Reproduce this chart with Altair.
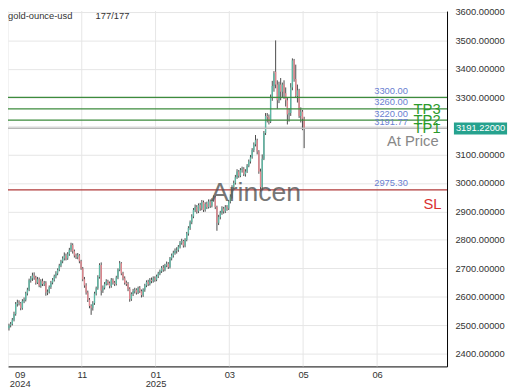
import altair as alt
import pandas as pd

# ---- OHLC values (daily bars, index-based x) ----
O = [2490, 2500, 2505, 2520, 2540, 2575, 2580, 2578, 2560, 2585,
     2590, 2612, 2625, 2658, 2665, 2675, 2668, 2650, 2662, 2640,
     2655, 2645, 2650, 2615, 2618, 2635, 2650, 2660, 2672, 2682,
     2695, 2710, 2725, 2735, 2745, 2735, 2750, 2765, 2782, 2760,
     2745, 2740, 2746, 2725, 2700, 2662, 2640, 2615, 2590, 2568,
     2562, 2578, 2612, 2630, 2670, 2712, 2622, 2632, 2645, 2655,
     2648, 2638, 2660, 2650, 2645, 2668, 2695, 2718, 2682, 2665,
     2650, 2645, 2628, 2592, 2610, 2620, 2625, 2615, 2630, 2620,
     2606, 2625, 2640, 2652, 2645, 2660, 2655, 2665, 2660, 2672,
     2682, 2690, 2702, 2695, 2710, 2716, 2705, 2735, 2745, 2755,
     2762, 2765, 2776, 2790, 2796, 2780, 2800, 2822, 2842, 2862,
     2882, 2905, 2915, 2900, 2922, 2910, 2932, 2905, 2926, 2915,
     2935, 2920, 2940, 2950, 2915, 2860, 2880, 2895, 2910, 2900,
     2915, 2910, 2935, 2952, 2985, 3000, 3020, 3040, 3025, 3045,
     3050, 3030, 3040, 3060, 3075, 3090, 3115, 3135, 3150, 3110,
     3040, 2985, 3085, 3175, 3235, 3230, 3215, 3300, 3340, 3390,
     3345, 3290, 3345, 3320, 3345, 3315, 3290, 3240, 3245, 3335,
     3430, 3365, 3305, 3325, 3235, 3250, 3225]

H = [2506, 2512, 2526, 2548, 2582, 2590, 2588, 2582, 2592, 2598,
     2618, 2632, 2664, 2673, 2685, 2686, 2674, 2670, 2668, 2662,
     2664, 2656, 2655, 2626, 2640, 2656, 2666, 2678, 2690, 2700,
     2716, 2730, 2742, 2756, 2752, 2757, 2772, 2790, 2788, 2766,
     2752, 2754, 2750, 2730, 2705, 2670, 2648, 2622, 2596, 2574,
     2585, 2618, 2636, 2676, 2718, 2721, 2640, 2652, 2662, 2660,
     2654, 2666, 2665, 2656, 2674, 2700, 2726, 2722, 2688, 2672,
     2657, 2652, 2634, 2616, 2628, 2632, 2630, 2636, 2638, 2626,
     2630, 2646, 2658, 2660, 2666, 2668, 2672, 2672, 2678, 2688,
     2696, 2708, 2712, 2716, 2724, 2722, 2740, 2752, 2762, 2770,
     2774, 2782, 2796, 2804, 2800, 2806, 2828, 2848, 2868, 2890,
     2912, 2924, 2922, 2928, 2930, 2940, 2938, 2932, 2934, 2942,
     2942, 2946, 2956, 2954, 2920, 2888, 2902, 2918, 2916, 2922,
     2922, 2940, 2960, 2992, 3008, 3028, 3048, 3045, 3052, 3057,
     3055, 3048, 3066, 3082, 3098, 3122, 3142, 3168, 3155, 3115,
     3050, 3100, 3182, 3245, 3245, 3240, 3310, 3358, 3392, 3500,
     3360, 3355, 3368, 3352, 3360, 3335, 3300, 3262, 3350, 3437,
     3435, 3415, 3345, 3330, 3265, 3256, 3232]

L = [2482, 2493, 2500, 2514, 2534, 2566, 2570, 2553, 2555, 2578,
     2584, 2605, 2620, 2650, 2656, 2660, 2643, 2645, 2634, 2632,
     2638, 2638, 2604, 2606, 2612, 2628, 2644, 2654, 2665, 2676,
     2690, 2704, 2718, 2728, 2728, 2730, 2744, 2758, 2752, 2738,
     2733, 2732, 2718, 2695, 2655, 2632, 2608, 2582, 2560, 2537,
     2552, 2572, 2605, 2625, 2664, 2605, 2614, 2626, 2640, 2641,
     2630, 2632, 2643, 2638, 2640, 2662, 2690, 2676, 2658, 2643,
     2638, 2620, 2583, 2586, 2603, 2612, 2608, 2610, 2614, 2598,
     2600, 2618, 2634, 2638, 2640, 2648, 2650, 2653, 2655, 2666,
     2676, 2684, 2688, 2690, 2704, 2698, 2700, 2728, 2738, 2748,
     2752, 2758, 2770, 2783, 2773, 2774, 2795, 2815, 2835, 2855,
     2876, 2898, 2892, 2894, 2902, 2904, 2898, 2899, 2908, 2910,
     2912, 2914, 2934, 2908, 2832, 2852, 2872, 2888, 2892, 2894,
     2902, 2905, 2928, 2945, 2978, 2994, 3014, 3018, 3020, 3036,
     3024, 3022, 3035, 3055, 3068, 3085, 3108, 3128, 3100, 3032,
     2970, 2975, 3080, 3168, 3212, 3205, 3210, 3288, 3320, 3332,
     3260, 3280, 3290, 3300, 3295, 3268, 3205, 3215, 3235, 3325,
     3355, 3298, 3282, 3228, 3212, 3185, 3122]

C = [2500, 2505, 2520, 2540, 2575, 2580, 2578, 2560, 2585, 2590,
     2612, 2625, 2658, 2665, 2675, 2668, 2650, 2662, 2640, 2655,
     2645, 2650, 2615, 2618, 2635, 2650, 2660, 2672, 2682, 2695,
     2710, 2725, 2735, 2745, 2735, 2750, 2765, 2782, 2760, 2745,
     2740, 2746, 2725, 2700, 2662, 2640, 2615, 2590, 2568, 2562,
     2578, 2612, 2630, 2670, 2712, 2622, 2632, 2645, 2655, 2648,
     2638, 2660, 2650, 2645, 2668, 2695, 2718, 2682, 2665, 2650,
     2645, 2628, 2592, 2610, 2620, 2625, 2615, 2630, 2620, 2606,
     2625, 2640, 2652, 2645, 2660, 2655, 2665, 2660, 2672, 2682,
     2690, 2702, 2695, 2710, 2716, 2705, 2735, 2745, 2755, 2762,
     2765, 2776, 2790, 2796, 2780, 2800, 2822, 2842, 2862, 2882,
     2905, 2915, 2900, 2922, 2910, 2932, 2905, 2926, 2915, 2935,
     2920, 2940, 2950, 2915, 2860, 2880, 2895, 2910, 2900, 2915,
     2910, 2935, 2952, 2985, 3000, 3020, 3040, 3025, 3045, 3050,
     3030, 3040, 3060, 3075, 3090, 3115, 3135, 3150, 3110, 3040,
     2985, 3085, 3175, 3235, 3230, 3215, 3300, 3340, 3385, 3345,
     3290, 3345, 3320, 3345, 3315, 3290, 3240, 3245, 3335, 3430,
     3365, 3305, 3325, 3235, 3250, 3225, 3191]

# ---- axis ticks ----
label_pos = [6.4, 43.4, 87.4, 131.4, 175.4, 219.5]
label_top = ["09", "11", "01", "03", "05", "06"]
label_bot = ["2024", "", "2025", "", "", ""]
grid_pos = [-0.58, 43.4, 87.4, 131.4, 175.4, 219.5]
y_ticks = [2400, 2500, 2600, 2700, 2800, 2900, 3000, 3100, 3200, 3300, 3400, 3500, 3600]

# ---- levels ----
level_values = [3300.00, 3260.00, 3220.00, 3191.77, 2975.30]
level_text = ["3300.00", "3260.00", "3220.00", "3191.77", "2975.30"]
level_kind = ["tp", "tp", "tp", "entry", "sl"]
tp_values = [3260.00, 3220.00, 3191.77]
tp_names = ["TP3", "TP2", "TP1"]
entry_value = 3191.77
sl_value = 2975.30
last_price = 3191.22

FONT = "Liberation Sans"
KIND_COLOR = {"tp": "#3d8b3d", "entry": "#b8b8b8", "sl": "#b03a3a"}
DIR_COLOR = {"up": "#5cb8a4", "down": "#e2868e"}

df = pd.DataFrame({"i": list(range(len(C))), "o": O, "h": H, "l": L, "c": C})
df["col"] = [DIR_COLOR["up"] if c >= o else DIR_COLOR["down"] for o, c in zip(O, C)]

expr = ""
for p, t, b in zip(label_pos, label_top, label_bot):
    lab = f"['{t}', '{b}']" if b else f"'{t}'"
    expr += f"abs(datum.value - {p}) < 1 ? {lab} : "
expr += "''"

xscale = alt.Scale(domain=[-0.58, 261.2], nice=False, zero=False)
yscale = alt.Scale(domain=[2356, 3603], nice=False, zero=False)
xaxis = alt.Axis(values=label_pos, labelExpr=expr, grid=False, ticks=False,
                 domain=True, domainColor="black", domainWidth=1,
                 labelPadding=3, labelFontSize=9.5, labelColor="#333",
                 labelLineHeight=9, labelFont=FONT, title=None, labelOverlap=False)
yaxis = alt.Axis(orient="right", values=y_ticks, format=".5f", grid=True,
                 gridColor="#e6e6e6", ticks=False, labelPadding=8,
                 domain=True, domainColor="black", domainWidth=1,
                 labelFontSize=9.5, labelColor="#333", labelFont=FONT, title=None)

def X(f):
    return alt.X(f, scale=xscale, axis=xaxis)

def Y(f):
    return alt.Y(f, scale=yscale, axis=yaxis)

vgrid = alt.Chart(pd.DataFrame({"i": grid_pos})).mark_rule(color="#e6e6e6").encode(x=X("i:Q"))

wick = alt.Chart(df).mark_rule(color="#4a4a4a", strokeWidth=1).encode(
    x=X("i:Q"), y=Y("l:Q"), y2="h:Q")
body = alt.Chart(df).mark_rule(strokeWidth=1.4).encode(
    x=X("i:Q"), y=Y("o:Q"), y2="c:Q",
    color=alt.Color("col:N", scale=None))

lev = pd.DataFrame({"v": level_values, "t": level_text,
                    "col": [KIND_COLOR[k] for k in level_kind]})
lines = alt.Chart(lev).mark_rule(strokeWidth=1.3).encode(
    y=Y("v:Q"), color=alt.Color("col:N", scale=None))
lev_txt = alt.Chart(lev).mark_text(align="left", baseline="middle", dy=-6.5,
                                   fontSize=9.5, font=FONT, color="#6a7fd1").encode(
    x=alt.value(372), y=Y("v:Q"), text="t:N")

tp = pd.DataFrame({"v": tp_values, "t": tp_names})
tp_txt = alt.Chart(tp).mark_text(align="left", baseline="middle", fontSize=15,
                                 font=FONT, color="#2a9a2a").encode(
    x=alt.value(412), y=Y("v:Q"), text="t:N")

ent = alt.Chart(pd.DataFrame({"v": [entry_value], "t": ["At Price"]})).mark_text(
    align="left", baseline="middle", dy=13, fontSize=15, font=FONT, color="#888888").encode(
    x=alt.value(385), y=Y("v:Q"), text="t:N")

sl = alt.Chart(pd.DataFrame({"v": [sl_value], "t": ["SL"]})).mark_text(
    align="left", baseline="middle", dy=14, fontSize=15, font=FONT, color="#d93030").encode(
    x=alt.value(422), y=Y("v:Q"), text="t:N")

lp = pd.DataFrame({"v": [last_price], "t": [f"{last_price:.5f}"]})
box = alt.Chart(lp).transform_calculate(top="datum.v + 21", bot="datum.v - 21").mark_rect(
    color="#26a28e").encode(x=alt.value(453), x2=alt.value(507), y=Y("top:Q"), y2="bot:Q")
box_txt = alt.Chart(lp).mark_text(align="left", baseline="middle", fontSize=9.5,
                                  font=FONT, color="white").encode(
    x=alt.value(455), y=Y("v:Q"), text="t:N")

wm = alt.Chart(pd.DataFrame({"t": ["Arincen"]})).mark_text(
    align="center", baseline="middle", fontSize=27, font=FONT, color="#555555", opacity=0.8).encode(
    x=alt.value(252), y=alt.value(185), text="t:N")

hdr = alt.Chart(pd.DataFrame({"t": ["gold-ounce-usd", "177/177"], "px": [0, 89]})).mark_text(
    align="left", baseline="middle", fontSize=9.5, font=FONT, color="#333333").encode(
    x=alt.X("px:Q", scale=None), y=alt.value(5), text="t:N")

chart = alt.layer(vgrid, wick, body, lines, lev_txt, tp_txt, ent, sl, box, box_txt, wm, hdr).properties(
    width=446, height=361,
    autosize=alt.AutoSizeParams(type="none"),
    padding={"left": 0, "top": 0, "right": 66, "bottom": 30},
    background="white",
).configure_view(stroke=None)

chart.save("out.html", embed_options={"renderer": "svg", "actions": False})
